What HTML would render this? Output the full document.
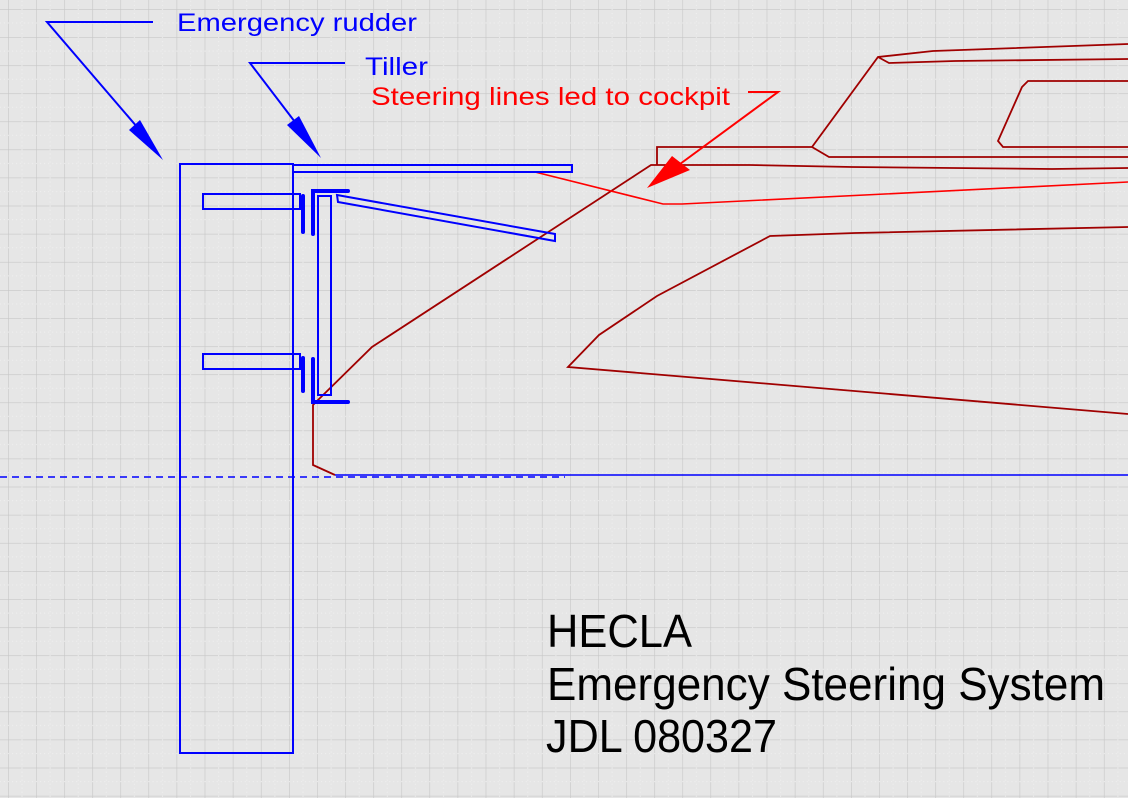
<!DOCTYPE html>
<html><head><meta charset="utf-8"><style>
html,body{margin:0;padding:0;background:#e6e6e6;}
svg{display:block;}
</style></head><body>
<svg width="1128" height="798" viewBox="0 0 1128 798" xmlns="http://www.w3.org/2000/svg">
<defs>
<pattern id="g" x="8" y="9" width="28.1" height="28.1" patternUnits="userSpaceOnUse">
<path d="M0 0H28.1M0 0V28.1" stroke="#c6c6c6" stroke-width="1.2" fill="none"/>
<path d="M0 14H28.1M14 0V28.1" stroke="#f2f2f2" stroke-width="0.8" stroke-dasharray="1 3" fill="none"/>
</pattern>
</defs>
<rect width="1128" height="798" fill="#e6e6e6"/>
<rect width="1128" height="798" fill="url(#g)"/>

<!-- hull (dark red) -->
<g fill="none" stroke="#a00000" stroke-width="1.8">
<polyline points="1128,44 933,51 878,57 812,147 657,147 657,165"/>
<polyline points="878,57 889,63 955,61 1128,59"/>
<polyline points="812,147 829,157 1128,157"/>
<polyline points="1128,81 1028,81 1022,87 998,141 1003,147 1128,147"/>
<polyline points="1128,168 1052,169 852,167 750,165 651,165 372,347 318,400 313,405 313,465 335,475"/>
<polyline points="1128,227 855,233 770,236 657,296 599,335 568,367 1128,414"/>
</g>
<!-- steering line -->
<polyline points="535,172 663,204 682,204 1128,182" fill="none" stroke="#ff0000" stroke-width="1.6"/>
<!-- red arrow -->
<polyline points="748,92 778,92 680,164" fill="none" stroke="#ff0000" stroke-width="2"/>
<polygon points="647,188 672,156 690,170" fill="#ff0000"/>

<!-- waterline -->
<line x1="0" y1="477" x2="565" y2="477" stroke="#0000ff" stroke-width="1.5" stroke-dasharray="7 5"/>
<line x1="335" y1="475" x2="1128" y2="475" stroke="#0000ff" stroke-width="1.6"/>

<!-- blue rudder parts -->
<g fill="none" stroke="#0000ff" stroke-width="2">
<rect x="180" y="164" width="113" height="589"/>
<rect x="293" y="165" width="279" height="7"/>
<rect x="203" y="194" width="97" height="15"/>
<rect x="203" y="354" width="97" height="15"/>
<rect x="318" y="196" width="13" height="199"/>
<polygon points="337,195 555,234 555,241 338,202"/>
</g>
<g stroke="#0000ff" stroke-width="4" fill="none" stroke-linecap="round">
<line x1="303" y1="196" x2="303" y2="232"/>
<line x1="303" y1="358" x2="303" y2="391"/>
<polyline points="313,234 313,191 348,191"/>
<polyline points="313,359 313,402 348,402"/>
</g>

<!-- blue pointers -->
<g fill="none" stroke="#0000ff" stroke-width="2">
<polyline points="153,22 47,22 138,128"/>
<polyline points="345,63 250,63 295,122"/>
</g>
<polygon points="163,160 129,130 140,120" fill="#0000ff"/>
<polygon points="321,158 287,125 299,116" fill="#0000ff"/>

<!-- labels -->
<g font-family="Liberation Sans, sans-serif" font-size="25">
<text x="177" y="31" fill="#0000ff" textLength="240" lengthAdjust="spacingAndGlyphs">Emergency rudder</text>
<text x="365" y="75" fill="#0000ff" textLength="63" lengthAdjust="spacingAndGlyphs">Tiller</text>
<text x="371" y="105" fill="#ff0000" textLength="359" lengthAdjust="spacingAndGlyphs">Steering lines led to cockpit</text>
</g>
<g font-family="Liberation Sans, sans-serif" font-size="46" fill="#000">
<text x="547" y="647" textLength="145" lengthAdjust="spacingAndGlyphs">HECLA</text>
<text x="547" y="700" textLength="558" lengthAdjust="spacingAndGlyphs">Emergency Steering System</text>
<text x="546" y="752" textLength="231" lengthAdjust="spacingAndGlyphs">JDL 080327</text>
</g>
</svg>
</body></html>
